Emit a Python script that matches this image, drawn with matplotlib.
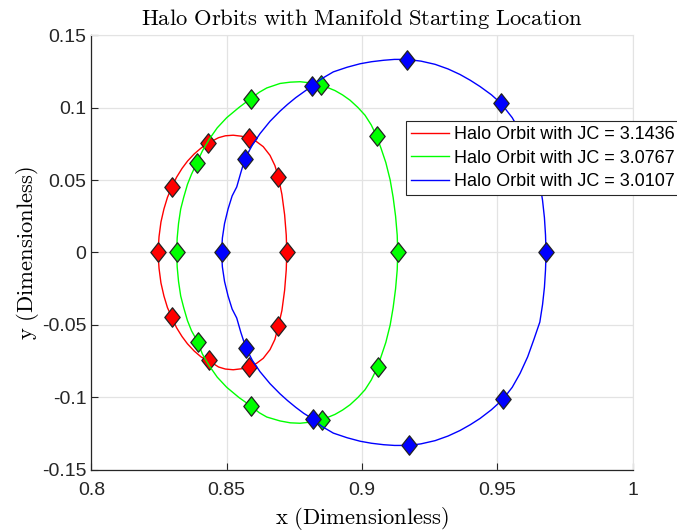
import matplotlib
matplotlib.use("Agg")
import matplotlib.pyplot as plt
from matplotlib.path import Path

plt.rcParams['font.family'] = ['Liberation Sans', 'DejaVu Sans']
plt.rcParams['mathtext.fontset'] = 'cm'
plt.rcParams['axes.unicode_minus'] = False

# orbit traces, upper half (right -> left) and lower half (left -> right)
red_up_x = [0.8722, 0.8720, 0.8714, 0.8704, 0.8691, 0.8678, 0.8660, 0.8635, 0.8610, 0.8583,
            0.8555, 0.8524, 0.8495, 0.8470, 0.8432, 0.8405, 0.8380, 0.8355, 0.8335, 0.8315,
            0.8297, 0.8281, 0.8268, 0.8257, 0.8250, 0.8246]
red_up_y = [0.0, 0.012, 0.026, 0.040, 0.052, 0.060, 0.067, 0.073, 0.0765, 0.0787,
            0.0802, 0.0809, 0.0805, 0.0792, 0.0755, 0.072, 0.068, 0.063, 0.058, 0.052,
            0.0452, 0.038, 0.030, 0.021, 0.011, 0.0]
red_lo_x = [0.8250, 0.8257, 0.8268, 0.8281, 0.8297, 0.8315, 0.8335, 0.8355, 0.8380, 0.8405,
            0.8435, 0.8470, 0.8495, 0.8524, 0.8555, 0.8584, 0.8610, 0.8635, 0.8660, 0.8678,
            0.8691, 0.8704, 0.8714, 0.8720, 0.8722]
red_lo_y = [-0.011, -0.021, -0.030, -0.038, -0.0448, -0.052, -0.058, -0.063, -0.068, -0.072,
            -0.0748, -0.0790, -0.0804, -0.0809, -0.0802, -0.0789, -0.0765, -0.073, -0.067, -0.060,
            -0.0506, -0.040, -0.026, -0.012, 0.0]

green_up_x = [0.9132, 0.9130, 0.9124, 0.9115, 0.9104, 0.9088, 0.9070, 0.9054, 0.9034, 0.9011,
              0.8985, 0.8956, 0.8928, 0.8900, 0.8870, 0.8847, 0.8810, 0.8771, 0.8735, 0.8697,
              0.8648, 0.8620, 0.8589, 0.8545, 0.8500, 0.8465, 0.8435, 0.8410, 0.8389, 0.8370,
              0.8355, 0.8341, 0.8330, 0.8322, 0.8317, 0.8315]
green_up_y = [0.0, 0.012, 0.025, 0.038, 0.050, 0.062, 0.072, 0.0802, 0.088, 0.0947,
              0.100, 0.105, 0.1087, 0.1117, 0.1140, 0.1154, 0.1170, 0.1178, 0.1175, 0.1166,
              0.1135, 0.1105, 0.1062, 0.100, 0.093, 0.086, 0.078, 0.070, 0.0616, 0.054,
              0.047, 0.038, 0.030, 0.020, 0.010, 0.0]
green_lo_x = [0.8317, 0.8322, 0.8330, 0.8341, 0.8355, 0.8370, 0.8393, 0.8410, 0.8435, 0.8465,
              0.8500, 0.8545, 0.8590, 0.8620, 0.8648, 0.8697, 0.8735, 0.8771, 0.8810, 0.8851,
              0.8870, 0.8900, 0.8928, 0.8956, 0.8985, 0.9011, 0.9034, 0.9058, 0.9070, 0.9088,
              0.9104, 0.9115, 0.9124, 0.9130, 0.9132]
green_lo_y = [-0.010, -0.020, -0.030, -0.038, -0.047, -0.054, -0.0617, -0.070, -0.078, -0.086,
              -0.093, -0.100, -0.1060, -0.1105, -0.1135, -0.1162, -0.1175, -0.1178, -0.1170, -0.1157,
              -0.1140, -0.1117, -0.1087, -0.105, -0.100, -0.0947, -0.088, -0.0789, -0.072, -0.062,
              -0.050, -0.038, -0.025, -0.012, 0.0]

blue_up_x = [0.9680, 0.9678, 0.9674, 0.9667, 0.9657, 0.9635, 0.9612, 0.9584, 0.9555, 0.9514,
             0.9478, 0.9436, 0.9400, 0.9362, 0.9318, 0.9270, 0.9218, 0.9165, 0.9120, 0.9080,
             0.9035, 0.8993, 0.8945, 0.8894, 0.8852, 0.8814, 0.8785, 0.8755, 0.8725, 0.8697,
             0.8660, 0.8623, 0.8595, 0.8568, 0.8552, 0.8537, 0.8520, 0.8505, 0.8492, 0.8484, 0.8481]
blue_up_y = [0.0, 0.012, 0.024, 0.036, 0.048, 0.060, 0.072, 0.0834, 0.093, 0.1028,
             0.1088, 0.1145, 0.1188, 0.1228, 0.1266, 0.1298, 0.1320, 0.1332, 0.1332, 0.1326,
             0.1316, 0.1302, 0.1278, 0.1246, 0.1200, 0.1147, 0.1108, 0.1068, 0.1022, 0.0975,
             0.0905, 0.0820, 0.0742, 0.0650, 0.0550, 0.0452, 0.039, 0.030, 0.020, 0.010, 0.0]
blue_lo_x = [0.8484, 0.8492, 0.8505, 0.8520, 0.8537, 0.8552, 0.8571, 0.8595, 0.8623, 0.8660,
             0.8697, 0.8725, 0.8755, 0.8785, 0.8820, 0.8852, 0.8894, 0.8945, 0.8993, 0.9035,
             0.9080, 0.9120, 0.9175, 0.9218, 0.9270, 0.9318, 0.9362, 0.9400, 0.9436, 0.9478,
             0.9520, 0.9555, 0.9584, 0.9612, 0.9635, 0.9657, 0.9667, 0.9674, 0.9678, 0.9680]
blue_lo_y = [-0.010, -0.020, -0.030, -0.039, -0.0452, -0.055, -0.0658, -0.0745, -0.0822, -0.0905,
             -0.0975, -0.1022, -0.1068, -0.1110, -0.1150, -0.1200, -0.1246, -0.1278, -0.1302, -0.1316,
             -0.1326, -0.1331, -0.1331, -0.1320, -0.1298, -0.1266, -0.1228, -0.1188, -0.1145, -0.1085,
             -0.1014, -0.093, -0.0834, -0.072, -0.060, -0.048, -0.036, -0.024, -0.012, 0.0]

# manifold starting points
red_mx = [0.8722, 0.8691, 0.8583, 0.8432, 0.8297, 0.8246, 0.8297, 0.8435, 0.8584, 0.8691]
red_my = [0.0, 0.0520, 0.0787, 0.0755, 0.0452, 0.0, -0.0448, -0.0745, -0.0789, -0.0506]
green_mx = [0.9132, 0.9054, 0.8847, 0.8589, 0.8389, 0.8315, 0.8393, 0.8590, 0.8851, 0.9058]
green_my = [0.0, 0.0802, 0.1154, 0.1062, 0.0616, 0.0, -0.0617, -0.1060, -0.1157, -0.0789]
blue_mx = [0.9680, 0.9514, 0.9165, 0.8814, 0.8568, 0.8481, 0.8571, 0.8820, 0.9175, 0.9520]
blue_my = [0.0, 0.1028, 0.1331, 0.1147, 0.0648, 0.0, -0.0658, -0.1150, -0.1329, -0.1014]

jc_values = ['3.1436', '3.0767', '3.0107']
x_ticks = [0.8, 0.85, 0.9, 0.95, 1.0]
x_tick_labels = ['0.8', '0.85', '0.9', '0.95', '1']
y_ticks = [-0.15, -0.1, -0.05, 0.0, 0.05, 0.1, 0.15]
y_tick_labels = ['-0.15', '-0.1', '-0.05', '0', '0.05', '0.1', '0.15']

# matlab-style diamond (a bit narrower than it is tall)
diamond = Path([(0, 1), (0.79, 0), (0, -1), (-0.79, 0), (0, 1)],
               [Path.MOVETO, Path.LINETO, Path.LINETO, Path.LINETO, Path.CLOSEPOLY])

fig = plt.figure(figsize=(6.77, 5.31), dpi=100)
ax = fig.add_axes([0.135, 0.115, 0.7995, 0.819])

orbits = [
    (red_up_x + red_lo_x, red_up_y + red_lo_y, red_mx, red_my, '#ff0000'),
    (green_up_x + green_lo_x, green_up_y + green_lo_y, green_mx, green_my, '#00ff00'),
    (blue_up_x + blue_lo_x, blue_up_y + blue_lo_y, blue_mx, blue_my, '#0000ff'),
]
z = 2
for (ox, oy, mx, my, col), jc in zip(orbits, jc_values):
    ax.plot(ox, oy, color=col, lw=1.0, zorder=z, label=f'Halo Orbit with JC = {jc}')
    ax.plot(mx, my, ls='none', marker=diamond, ms=14, mfc=col, mec='#222222',
            mew=0.9, zorder=z + 1)
    z += 2

ax.set_xlim(0.8, 1.0)
ax.set_ylim(-0.15, 0.15)
ax.set_xticks(x_ticks)
ax.set_xticklabels(x_tick_labels)
ax.set_yticks(y_ticks)
ax.set_yticklabels(y_tick_labels)
ax.tick_params(direction='in', length=5, width=0.8, labelsize=14, colors='#262626',
               top=False, right=False)
ax.tick_params(axis='x', pad=9)
ax.grid(True, color='#e3e3e3', lw=0.9)
ax.set_axisbelow(True)
for s in ['top', 'right']:
    ax.spines[s].set_color('#e3e3e3')
for s in ['left', 'bottom']:
    ax.spines[s].set_color('#262626')
    ax.spines[s].set_linewidth(0.9)

ax.set_title(r'$\mathrm{Halo\ Orbits\ with\ Manifold\ Starting\ Location}$',
             fontsize=16.3, pad=7)
ax.set_xlabel(r'$\mathrm{x\ (Dimensionless)}$', fontsize=16.3, labelpad=4)
ax.set_ylabel(r'$\mathrm{y\ (Dimensionless)}$', fontsize=16.3, labelpad=1)

leg = ax.legend(loc='upper left', bbox_to_anchor=(406 / 677, 1 - 121 / 531),
                bbox_transform=fig.transFigure, fontsize=13.0, frameon=True,
                fancybox=False, framealpha=1, edgecolor='#262626',
                handlelength=2.1, handletextpad=0.25, labelspacing=0.35,
                borderpad=0.3, borderaxespad=0)
leg.get_frame().set_linewidth(0.8)
leg.set_zorder(20)

fig.savefig('out.png', dpi=100)
